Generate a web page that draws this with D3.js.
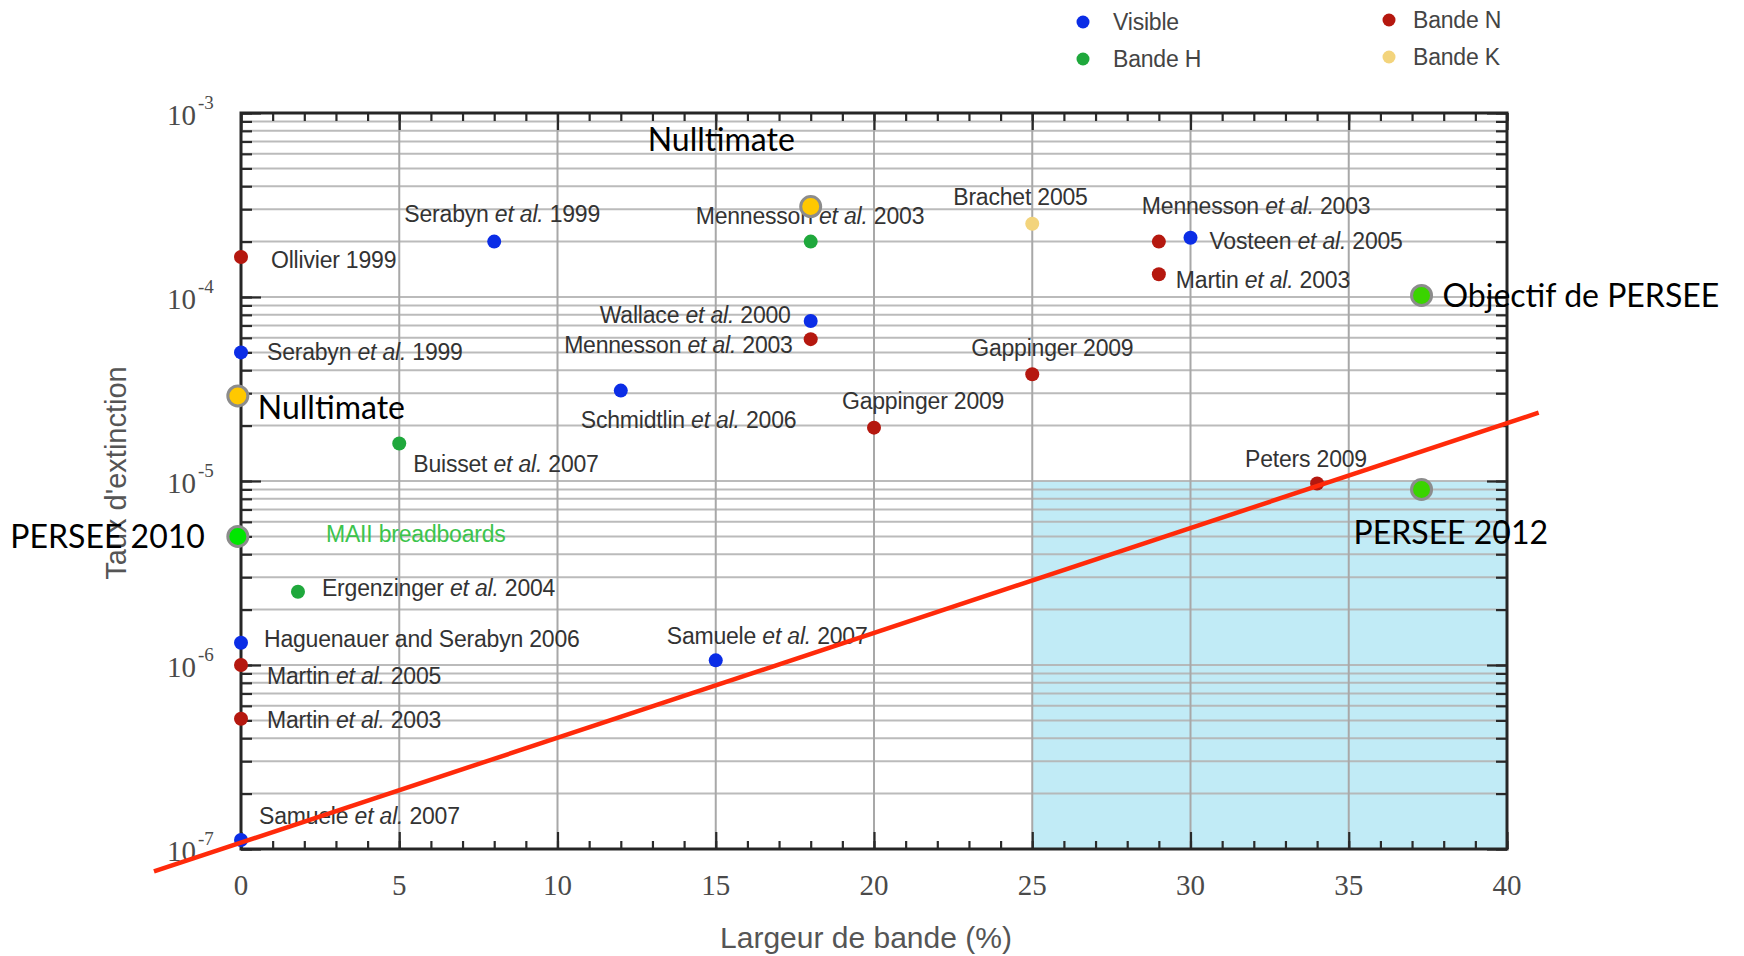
<!DOCTYPE html>
<html>
<head>
<meta charset="utf-8">
<script src="https://cdn.jsdelivr.net/npm/d3@7"></script>
<style>
  body { margin: 0; background: #fff; }
</style>
</head>
<body>
<div id="wrapper"></div>
<script>
// data
const pointNames = ["Ollivier 1999", "Serabyn et al. 1999", "Serabyn et al. 1999", "Buisset et al. 2007",
  "MAII breadboards", "Ergenzinger et al. 2004", "Haguenauer and Serabyn 2006", "Martin et al. 2005",
  "Martin et al. 2003", "Samuele et al. 2007", "Samuele et al. 2007", "Schmidtlin et al. 2006",
  "Wallace et al. 2000", "Mennesson et al. 2003", "Mennesson et al. 2003", "Brachet 2005",
  "Gappinger 2009", "Gappinger 2009", "Mennesson et al. 2003", "Vosteen et al. 2005",
  "Martin et al. 2003", "Peters 2009"]
const pointBandwidth = [0, 8, 0, 5, 0, 1.8, 0, 0, 0, 0, 15, 12, 18, 18, 18, 25, 25, 20, 29, 30, 29, 34]
const pointExtinction = [1.65e-4, 2.0e-4, 5.0e-5, 1.6e-5, 5.0e-6, 2.5e-6, 1.32e-6, 1.0e-6, 5.1e-7, 1.12e-7,
  1.06e-6, 3.1e-5, 7.4e-5, 5.9e-5, 2.0e-4, 2.5e-4, 3.8e-5, 1.95e-5, 2.0e-4, 2.1e-4, 1.33e-4, 9.7e-6]
const pointBand = ["N", "V", "V", "H", "H", "H", "V", "N", "N", "V", "V", "V", "V", "N", "H", "K",
  "N", "N", "N", "V", "N", "N"]

const bandNames = ["V", "H", "N", "K"]
const bandLabels = ["Visible", "Bande H", "Bande N", "Bande K"]

const noteNames = ["Nulltimate", "Nulltimate", "PERSEE 2010", "Objectif de PERSEE", "PERSEE 2012"]
const noteBandwidth = [-0.1, 18, -0.1, 37.3, 37.3]
const noteExtinction = [2.9e-5, 3.1e-4, 5.0e-6, 1.02e-4, 9.0e-6]
const noteKind = ["K", "K", "H2010", "H", "H"]

const trendBandwidth = [-2.75, 41]
const trendExtinction = [7.55e-8, 2.35e-5]

const regionBandwidth = [25, 40]
const regionExtinction = [1e-7, 1e-5]

const xTickValues = [0, 5, 10, 15, 20, 25, 30, 35, 40]
const yTickExponents = [-7, -6, -5, -4, -3]

// label placement (pixels from the marker)
const pointLabelPos = [
  [30, 3, "start"], [8, -28, "middle"], [26, 0, "start"], [14, 21, "start"],
  [85, -2, "start"], [24, -4, "start"], [23, -4, "start"], [26, 11, "start"],
  [26, 1, "start"], [18, -24, "start"], [-49, -24, "start"], [-40, 29, "start"],
  [-20, -6, "end"], [-18, 6, "end"], [-115, -26, "start"], [-79, -27, "start"],
  [-61, -26, "start"], [-32, -27, "start"], [-17, -36, "start"], [19, 3, "start"],
  [17, 6, "start"], [-72, -24, "start"]
]
const noteLabelPos = [[20, 12, "start"], [-163, -67, "start"], [-33, 0, "end"], [21, 0, "start"], [-68, 43, "start"]]

const bandColor = {V: "#0b2de6", H: "#1fa83c", N: "#b5180f", K: "#f3d47c"}
const noteFill = {K: "#ffc800", H2010: "#00e600", H: "#3ad400"}

const width = 1744
const height = 956
const plot = {left: 241, right: 1507, top: 113, bottom: 849}

const svg = d3.select("#wrapper").append("svg")
    .attr("width", width)
    .attr("height", height)
    .style("display", "block")

const xScale = d3.scaleLinear().domain([0, 40]).range([plot.left, plot.right])
const yScale = d3.scaleLog().domain([1e-7, 1e-3]).range([plot.bottom, plot.top])

// shaded target region
svg.append("rect")
    .attr("x", xScale(regionBandwidth[0]))
    .attr("y", yScale(regionExtinction[1]))
    .attr("width", xScale(regionBandwidth[1]) - xScale(regionBandwidth[0]))
    .attr("height", yScale(regionExtinction[0]) - yScale(regionExtinction[1]))
    .attr("fill", "#c1ebf6")

// grid
const yMinor = yScale.ticks()
svg.append("g").selectAll("line")
  .data(yMinor)
  .join("line")
    .attr("x1", plot.left).attr("x2", plot.right)
    .attr("y1", d => yScale(d)).attr("y2", d => yScale(d))
    .attr("stroke", "#b4b4b4")
    .attr("stroke-opacity", 0.9)
    .attr("stroke-width", 2)
svg.append("g").selectAll("line")
  .data(xTickValues.slice(1, -1))
  .join("line")
    .attr("x1", d => xScale(d)).attr("x2", d => xScale(d))
    .attr("y1", plot.top).attr("y2", plot.bottom)
    .attr("stroke", "#a8a8a8")
    .attr("stroke-width", 2)

// ticks pointing inward on all four sides
const plotH = plot.bottom - plot.top
const plotW = plot.right - plot.left
function tickAxis(axis, transform, size, values) {
  const g = svg.append("g")
      .attr("transform", transform)
      .call(axis.tickValues(values).tickSize(size).tickFormat(""))
  g.select(".domain").remove()
  g.selectAll("line").attr("stroke", "#2a2a2a").attr("stroke-width", 2.2)
}
const xMinor = d3.range(0, 41, 1)
tickAxis(d3.axisBottom(xScale), `translate(0,${plot.bottom})`, -8, xMinor)
tickAxis(d3.axisBottom(xScale), `translate(0,${plot.bottom})`, -17, xTickValues)
tickAxis(d3.axisTop(xScale), `translate(0,${plot.top})`, -8, xMinor)
tickAxis(d3.axisTop(xScale), `translate(0,${plot.top})`, -17, xTickValues)
const yMajor = yTickExponents.map(e => Math.pow(10, e))
tickAxis(d3.axisLeft(yScale), `translate(${plot.left},0)`, -11, yMinor)
tickAxis(d3.axisLeft(yScale), `translate(${plot.left},0)`, -20, yMajor)
tickAxis(d3.axisRight(yScale), `translate(${plot.right},0)`, -11, yMinor)
tickAxis(d3.axisRight(yScale), `translate(${plot.right},0)`, -20, yMajor)

svg.append("rect")
    .attr("x", plot.left).attr("y", plot.top)
    .attr("width", plotW).attr("height", plotH)
    .attr("fill", "none")
    .attr("stroke", "#262626")
    .attr("stroke-width", 3)

// tick labels
svg.append("g").selectAll("text")
  .data(xTickValues)
  .join("text")
    .attr("x", d => xScale(d))
    .attr("y", plot.bottom + 46)
    .attr("text-anchor", "middle")
    .attr("font-family", "Liberation Serif, serif")
    .attr("font-size", 29)
    .attr("fill", "#4a4a4a")
    .text(d => d)
svg.append("g").selectAll("text")
  .data(yTickExponents)
  .join("text")
    .attr("x", 196)
    .attr("y", d => yScale(Math.pow(10, d)) + 12)
    .attr("text-anchor", "end")
    .attr("font-family", "Liberation Serif, serif")
    .attr("font-size", 29)
    .attr("fill", "#4a4a4a")
    .text("10")
svg.append("g").selectAll("text")
  .data(yTickExponents)
  .join("text")
    .attr("x", 198)
    .attr("y", d => yScale(Math.pow(10, d)) - 4)
    .attr("font-family", "Liberation Serif, serif")
    .attr("font-size", 19)
    .attr("fill", "#4a4a4a")
    .text(d => "-" + Math.abs(d))

// axis titles
svg.append("text")
    .attr("transform", `translate(126,${(plot.top + plot.bottom) / 2 - 8}) rotate(-90)`)
    .attr("text-anchor", "middle")
    .attr("font-family", "Liberation Sans, sans-serif")
    .attr("font-size", 29)
    .attr("fill", "#555")
    .text("Taux d'extinction")
svg.append("text")
    .attr("x", 866)
    .attr("y", 948)
    .attr("text-anchor", "middle")
    .attr("font-family", "Liberation Sans, sans-serif")
    .attr("font-size", 30)
    .attr("fill", "#555")
    .text("Largeur de bande (%)")

// legend
const legendX = [1083, 1083, 1389, 1389]
const legendY = [22, 59, 20, 57]
const legendGap = [30, 30, 24, 24]
bandNames.forEach((b, i) => {
  svg.append("circle")
      .attr("cx", legendX[i]).attr("cy", legendY[i]).attr("r", 6.5)
      .attr("fill", bandColor[b])
  svg.append("text")
      .attr("x", legendX[i] + legendGap[i]).attr("y", legendY[i])
      .attr("dy", "0.35em")
      .attr("font-family", "Liberation Sans, sans-serif")
      .attr("font-size", 23)
      .attr("letter-spacing", -0.2)
      .attr("fill", "#444")
      .text(bandLabels[i])
})

// small points + labels
const points = pointNames.map((name, i) => ({
  name, x: pointBandwidth[i], y: pointExtinction[i], band: pointBand[i], pos: pointLabelPos[i]
}))
svg.append("g").selectAll("circle")
  .data(points)
  .join("circle")
    .attr("cx", d => xScale(d.x))
    .attr("cy", d => yScale(d.y))
    .attr("r", 7)
    .attr("fill", d => bandColor[d.band])

const labels = svg.append("g").selectAll("text")
  .data(points)
  .join("text")
    .attr("x", d => xScale(d.x) + d.pos[0])
    .attr("y", d => yScale(d.y) + d.pos[1])
    .attr("dy", "0.35em")
    .attr("text-anchor", d => d.pos[2])
    .attr("font-family", "Liberation Sans, sans-serif")
    .attr("font-size", 23)
    .attr("letter-spacing", -0.2)
    .attr("fill", d => d.name === "MAII breadboards" ? "#3cc44c" : "#333")
labels.each(function(d) {
  const parts = d.name.split("et al.")
  const t = d3.select(this)
  if (parts.length === 1) { t.text(d.name); return }
  t.append("tspan").text(parts[0])
  t.append("tspan").attr("font-style", "italic").text("et al.")
  t.append("tspan").text(parts[1])
})

// trend line
svg.append("path")
    .datum(trendBandwidth.map((x, i) => [x, trendExtinction[i]]))
    .attr("d", d3.line().x(d => xScale(d[0])).y(d => yScale(d[1])))
    .attr("stroke", "#ff2a0a")
    .attr("stroke-width", 4.5)
    .attr("fill", "none")

// annotations
const notes = noteNames.map((name, i) => ({
  name, x: noteBandwidth[i], y: noteExtinction[i], kind: noteKind[i], pos: noteLabelPos[i]
}))
svg.append("g").selectAll("circle")
  .data(notes)
  .join("circle")
    .attr("cx", d => xScale(d.x))
    .attr("cy", d => yScale(d.y))
    .attr("r", 10)
    .attr("fill", d => noteFill[d.kind])
    .attr("stroke", "#8c8c8c")
    .attr("stroke-width", 3)
svg.append("g").selectAll("text")
  .data(notes)
  .join("text")
    .attr("x", d => xScale(d.x) + d.pos[0])
    .attr("y", d => yScale(d.y) + d.pos[1])
    .attr("dy", "0.36em")
    .attr("text-anchor", d => d.pos[2])
    .attr("font-family", "Lato, sans-serif")
    .attr("font-size", 32)
    .attr("fill", "#000")
    .text(d => d.name)
</script>
</body>
</html>
